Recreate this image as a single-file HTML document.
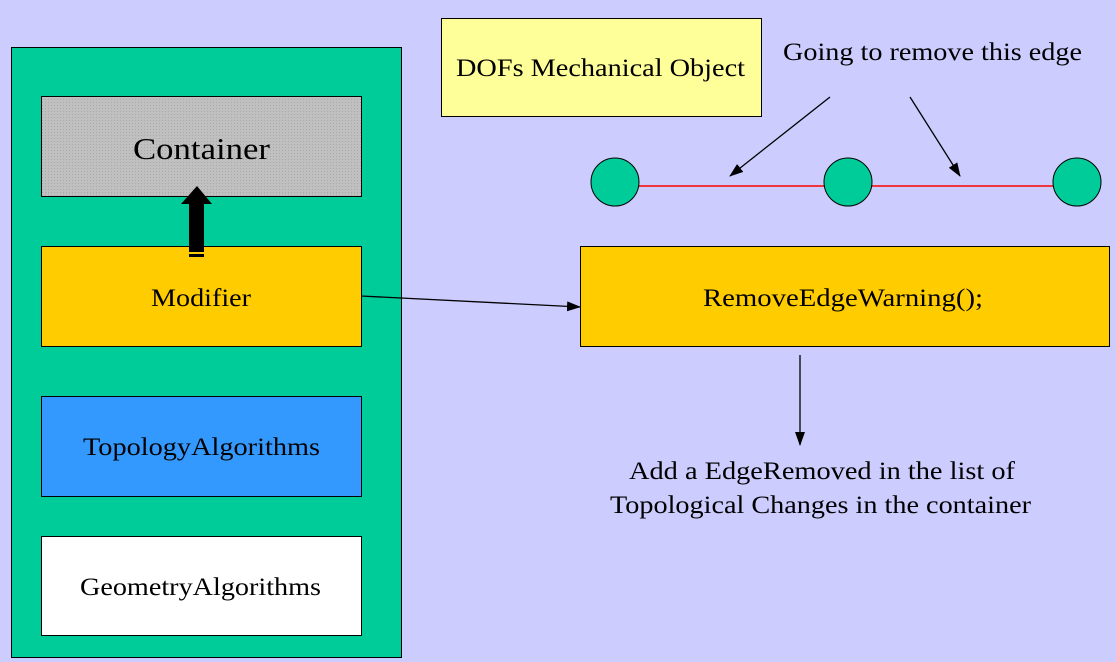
<!DOCTYPE html>
<html><head><style>body{margin:0;background:#ccccff}svg{display:block}text{font-family:"Liberation Serif",serif;fill:#000}</style></head><body>
<svg width="1116" height="662" viewBox="0 0 1116 662">
<defs><marker id="a" markerWidth="14" markerHeight="10" refX="13" refY="5" orient="auto" markerUnits="userSpaceOnUse"><path d="M0,0L14,5L0,10z" fill="#000"/></marker>
<pattern id="h" width="3" height="3" patternUnits="userSpaceOnUse"><rect width="3" height="3" fill="#c0c0c0"/><rect width="1" height="1" fill="#a8a8a8"/></pattern></defs>
<rect width="1116" height="662" fill="#ccccff"/>
<rect x="11.5" y="47.5" width="390" height="610" fill="#00cc99" stroke="#000"/>
<rect x="41.5" y="96.5" width="320" height="100" fill="url(#h)" stroke="#000"/>
<text x="133" y="159" font-size="31" textLength="137" lengthAdjust="spacingAndGlyphs">Container</text>
<rect x="41.5" y="246.5" width="320" height="100" fill="#ffcc00" stroke="#000"/>
<text x="151" y="306" font-size="25" textLength="100" lengthAdjust="spacingAndGlyphs">Modifier</text>
<path d="M189,252V204H181L197,186L212,204H204V252Z" fill="#000"/>
<rect x="189" y="254" width="15" height="3" fill="#000"/>
<rect x="41.5" y="396.5" width="320" height="100" fill="#3399ff" stroke="#000"/>
<text x="83" y="455" font-size="25" textLength="237" lengthAdjust="spacingAndGlyphs">TopologyAlgorithms</text>
<rect x="41.5" y="536.5" width="320" height="99" fill="#fff" stroke="#000"/>
<text x="80" y="595" font-size="25" textLength="241" lengthAdjust="spacingAndGlyphs">GeometryAlgorithms</text>
<rect x="441.5" y="18.5" width="320" height="98" fill="#ffff99" stroke="#000"/>
<text x="456" y="76" font-size="25" textLength="289" lengthAdjust="spacingAndGlyphs">DOFs Mechanical Object</text>
<text x="783" y="60" font-size="25" textLength="299" lengthAdjust="spacingAndGlyphs">Going to remove this edge</text>
<line x1="615" y1="186" x2="1077" y2="186" stroke="#f00" stroke-width="1.5"/>
<circle cx="615" cy="182" r="24" fill="#00cc99" stroke="#000"/>
<circle cx="848" cy="182" r="24" fill="#00cc99" stroke="#000"/>
<circle cx="1077" cy="182" r="24" fill="#00cc99" stroke="#000"/>
<line x1="830" y1="97" x2="730" y2="176" stroke="#000" stroke-width="1.3" marker-end="url(#a)"/>
<line x1="910" y1="97" x2="960" y2="176" stroke="#000" stroke-width="1.3" marker-end="url(#a)"/>
<rect x="580.5" y="246.5" width="529" height="100" fill="#ffcc00" stroke="#000"/>
<text x="703" y="306" font-size="25" textLength="280" lengthAdjust="spacingAndGlyphs">RemoveEdgeWarning();</text>
<line x1="361" y1="296" x2="580" y2="307" stroke="#000" stroke-width="1.3" marker-end="url(#a)"/>
<line x1="800" y1="355" x2="800" y2="445" stroke="#000" stroke-width="1.3" marker-end="url(#a)"/>
<text x="629" y="479" font-size="25" textLength="386" lengthAdjust="spacingAndGlyphs">Add a EdgeRemoved in the list of</text>
<text x="610" y="513" font-size="25" textLength="421" lengthAdjust="spacingAndGlyphs">Topological Changes in the container</text>
</svg></body></html>
